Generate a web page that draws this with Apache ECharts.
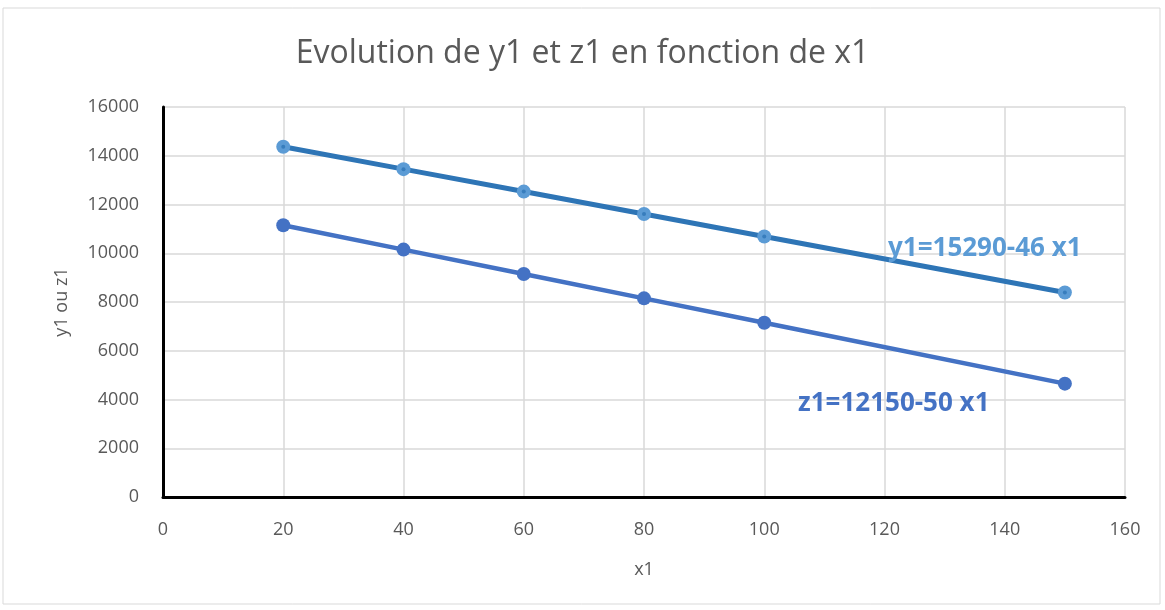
<!DOCTYPE html>
<html><head><meta charset="utf-8">
<script src="https://cdn.jsdelivr.net/npm/echarts@6/dist/echarts.min.js"></script>
<style>html,body{margin:0;padding:0;background:#fff}#c{width:1165px;height:610px}</style>
</head><body><div id="c"></div>
<script>
const x1 = [20, 40, 60, 80, 100, 150];
const y1 = [14370, 13450, 12530, 11610, 10690, 8390];
const z1 = [11150, 10150, 9150, 8150, 7150, 4650];
const titleText = 'Evolution de y1 et z1 en fonction de x1';
const y1Label = 'y1=15290-46 x1';
const z1Label = 'z1=12150-50 x1';

const chart = echarts.init(document.getElementById('c'));
const pairs = a => x1.map((x, i) => [x, a[i]]);
chart.setOption({
  animation: false,
  title: { text: titleText, left: 'center', top: 33,
    textStyle: { fontFamily: 'Open Sans', fontWeight: 'normal', fontSize: 32, color: '#595959' } },
  grid: { left: 163, right: 40, top: 107, bottom: 113 },
  xAxis: { type: 'value', min: 0, max: 160, interval: 20,
    name: 'x1', nameLocation: 'middle', nameGap: 64,
    nameTextStyle: { fontFamily: 'Open Sans', fontSize: 18, color: '#595959' },
    axisLine: { show: true, onZero: false, lineStyle: { color: '#000', width: 3 } },
    axisTick: { show: false },
    axisLabel: { fontFamily: 'Open Sans', fontSize: 18, color: '#595959', margin: 24 },
    splitLine: { show: true, lineStyle: { color: '#D9D9D9', width: 1.5 } } },
  yAxis: { type: 'value', min: 0, max: 16000, interval: 2000,
    name: 'y1 ou z1', nameLocation: 'middle', nameGap: 92, nameRotate: 90,
    nameTextStyle: { fontFamily: 'Open Sans', fontSize: 18, color: '#595959' },
    axisLine: { show: true, lineStyle: { color: '#000', width: 3 } },
    axisTick: { show: false },
    axisLabel: { fontFamily: 'Open Sans', fontSize: 18, color: '#595959', margin: 24,
      formatter: v => String(v) },
    splitLine: { show: true, lineStyle: { color: '#D9D9D9', width: 1.5 } } },
  series: [
    { type: 'line', data: pairs(y1), symbol: 'circle', symbolSize: 14,
      lineStyle: { color: '#2E75B6', width: 5 }, itemStyle: { color: '#5B9BD5' }, z: 3 },
    { type: 'scatter', data: pairs(y1), symbol: 'circle', symbolSize: 4,
      itemStyle: { color: '#2E75B6' }, z: 4 },
    { type: 'line', data: pairs(z1), symbol: 'circle', symbolSize: 14,
      lineStyle: { color: '#4472C4', width: 4.5 }, itemStyle: { color: '#4472C4' }, z: 3 }
  ],
  graphic: [
    { type: 'rect', shape: { x: 3, y: 8, width: 1157, height: 596 }, silent: true, z: -10,
      style: { fill: 'none', stroke: '#D9D9D9', lineWidth: 1 } },
    { type: 'text', left: 888, top: 236, z: 10,
      style: { text: y1Label, fontFamily: 'Open Sans', fontWeight: 'bold', fontSize: 26, fill: '#5B9BD5' } },
    { type: 'text', left: 798, top: 391, z: 10,
      style: { text: z1Label, fontFamily: 'Open Sans', fontWeight: 'bold', fontSize: 26, fill: '#4472C4' } }
  ]
});
</script></body></html>
